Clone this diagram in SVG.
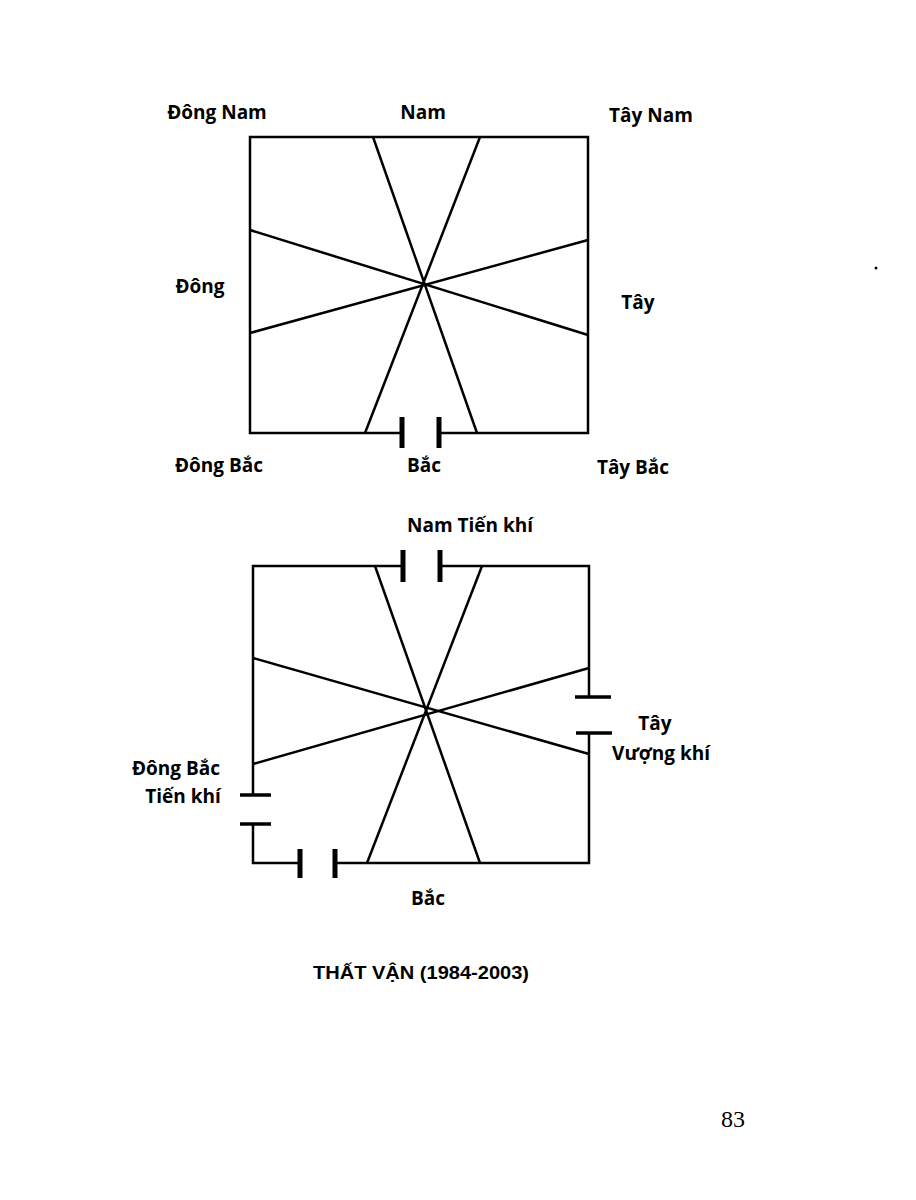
<svg xmlns="http://www.w3.org/2000/svg" width="916" height="1200" viewBox="0 0 916 1200">
<style>
.l{stroke:#000;stroke-width:2.5;fill:none}
.b{stroke:#000;stroke-width:5;fill:none}
.t{font-family:"Open Sans","Liberation Sans",sans-serif;font-weight:bold;font-size:19px;text-anchor:middle;fill:#000}
</style>
<rect width="916" height="1200" fill="#fff"/>
<g id="connectors">
<g id="top">
<polyline class="l" points="402,433 250,433 250,137 588,137 588,433 439,433"/>
<line class="l" x1="373" y1="137" x2="477" y2="433"/>
<line class="l" x1="480" y1="137" x2="365" y2="433"/>
<line class="l" x1="250" y1="230" x2="588" y2="335"/>
<line class="l" x1="250" y1="333" x2="588" y2="240"/>
<line class="b" x1="402" y1="417" x2="402" y2="448"/>
<line class="b" x1="439" y1="417" x2="439" y2="448"/>
</g>
<g id="bottom">
<polyline class="l" points="403,566 253,566 253,795"/>
<polyline class="l" points="440,566 589,566 589,697"/>
<polyline class="l" points="589,733 589,863 335,863"/>
<polyline class="l" points="253,824 253,863 300,863"/>
<line class="l" x1="375" y1="566" x2="480" y2="863"/>
<line class="l" x1="482" y1="566" x2="367" y2="863"/>
<line class="l" x1="253" y1="658" x2="589" y2="754"/>
<line class="l" x1="253" y1="764" x2="589" y2="668"/>
<line class="b" x1="403" y1="550" x2="403" y2="582"/>
<line class="b" x1="440" y1="550" x2="440" y2="582"/>
<line class="b" x1="300" y1="849" x2="300" y2="878"/>
<line class="b" x1="335" y1="849" x2="335" y2="878"/>
<line class="l" x1="575" y1="697" x2="611" y2="697" style="stroke-width:3.5"/>
<line class="l" x1="576" y1="733" x2="612" y2="733" style="stroke-width:3.5"/>
<line class="l" x1="240" y1="795" x2="271" y2="795" style="stroke-width:3.5"/>
<line class="l" x1="240" y1="824" x2="271" y2="824" style="stroke-width:3.5"/>
</g>
</g>
<g id="labels">
<text class="t" x="217" y="119">Đông Nam</text>
<text class="t" x="423" y="119">Nam</text>
<text class="t" x="651" y="122">Tây Nam</text>
<text class="t" x="200" y="293">Đông</text>
<text class="t" x="638" y="309">Tây</text>
<text class="t" x="219" y="472">Đông Bắc</text>
<text class="t" x="424" y="472">Bắc</text>
<text class="t" x="633" y="474">Tây Bắc</text>
<text class="t" x="470" y="532">Nam Tiến khí</text>
<text class="t" x="655" y="730">Tây</text>
<text class="t" x="661" y="760">Vượng khí</text>
<text class="t" x="176" y="775">Đông Bắc</text>
<text class="t" x="183" y="803">Tiến khí</text>
<text class="t" x="428" y="905">Bắc</text>
<text x="421" y="979" style="font-family:'Liberation Sans',sans-serif;font-weight:bold;font-size:19px;text-anchor:middle" textLength="216" lengthAdjust="spacingAndGlyphs">THẤT VẬN (1984-2003)</text>
<text x="733" y="1127" style="font-family:'Liberation Serif',serif;font-size:24px;text-anchor:middle">83</text>
<circle cx="876" cy="268" r="1.5" fill="#000"/>
</g>
</svg>
